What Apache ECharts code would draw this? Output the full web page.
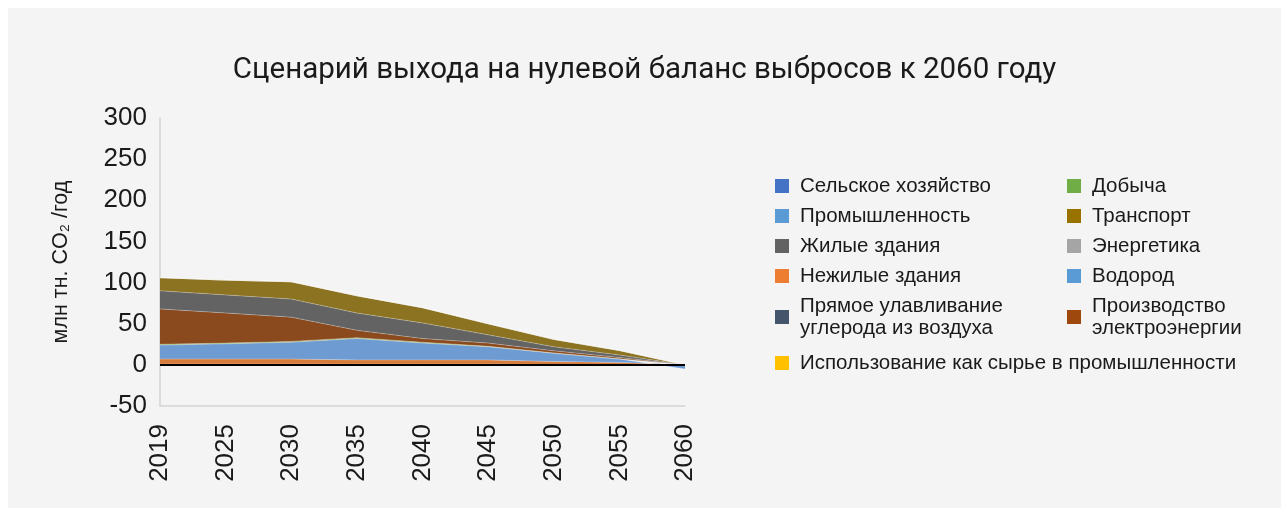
<!DOCTYPE html>
<html>
<head>
<meta charset="utf-8">
<script src="https://cdn.jsdelivr.net/npm/echarts@6/dist/echarts.min.js"></script>
<style>
    html, body { margin: 0; padding: 0; background: #ffffff; }
    #mainChart { position: absolute; left: 8px; top: 8px; width: 1273px; height: 500px; background: #f4f4f4; }
</style>
</head>
<body>
<div id="mainChart"></div>
<script>
// годы по оси X
const years = ['2019', '2025', '2030', '2035', '2040', '2045', '2050', '2055', '2060'];

// значения, млн тн. CO2 / год
const agriculture = [1, 1, 1, 1, 1, 1, 0.5, 0.5, 0];
const nonResidential = [6, 6, 6, 5, 5, 5, 3.5, 2.5, 0];
const industry = [17, 18.5, 20.5, 26, 20.5, 16, 10, 4, -5];
const mining = [1, 1, 1, 1, 1, 0.5, 0.5, 0.3, 0];
const power = [43, 36.5, 29.5, 9, 4.5, 4, 2.5, 1.7, 0];
const residential = [22, 22, 22, 21, 19, 10, 5, 3, 0];
const transport = [16, 18, 21, 21, 18.5, 13.5, 9, 5.5, 0];
const energy = [0, 0, 0, 0, 0, 0, 0, 0, 0];
const hydrogen = [0, 0, 0, 0, 0, 0, 0, 0, 0];
const directAirCapture = [0, 0, 0, 0, 0, 0, 0, 0, 0];
const feedstock = [0, 0, 0, 0, 0, 0, 0, 0, 0];

const yTicks = {min: -50, max: 300, interval: 50};

function initMainChart() {
    let mainChart = echarts.init(document.getElementById('mainChart'));

    // порядок = порядок накопления (снизу вверх)
    let seriesList = [
        {name: 'Сельское хозяйство', data: agriculture, legendColor: '#4472c4', areaColor: '#4472c4'},
        {name: 'Нежилые здания', data: nonResidential, legendColor: '#ed7d31', areaColor: '#d67b3a'},
        {name: 'Промышленность', data: industry, legendColor: '#5b9bd5', areaColor: '#6f9bd3'},
        {name: 'Добыча', data: mining, legendColor: '#70ad47', areaColor: '#7aa84e'},
        {name: 'Производство\nэлектроэнергии', data: power, legendColor: '#9e480e', areaColor: '#8b4a1d'},
        {name: 'Жилые здания', data: residential, legendColor: '#636363', areaColor: '#636363'},
        {name: 'Транспорт', data: transport, legendColor: '#997300', areaColor: '#8b7322'},
        {name: 'Энергетика', data: energy, legendColor: '#a5a5a5', areaColor: '#a5a5a5'},
        {name: 'Водород', data: hydrogen, legendColor: '#5b9bd5', areaColor: '#5b9bd5'},
        {name: 'Прямое улавливание\nуглерода из воздуха', data: directAirCapture, legendColor: '#44546a', areaColor: '#44546a'},
        {name: 'Использование как сырье в промышленности', data: feedstock, legendColor: '#ffc000', areaColor: '#ffc000'}
    ];

    let colorOf = {};
    seriesList.forEach(function (s) {
        colorOf[s.name] = s.legendColor;
    });

    function legendData(names) {
        return names.map(function (n) {
            return {name: n, itemStyle: {color: colorOf[n], borderWidth: 0}};
        });
    }

    let legendBase = {
        orient: 'vertical',
        icon: 'rect',
        padding: 0,
        itemWidth: 14,
        itemHeight: 14,
        itemGap: 8,
        selectedMode: false,
        textStyle: {
            fontFamily: 'Liberation Sans',
            fontSize: 20.5,
            lineHeight: 22,
            color: '#1a1a1a',
            padding: [0, 0, 0, 6]
        }
    };

    let series = seriesList.map(function (s, i) {
        let item = {
            name: s.name,
            type: 'line',
            stack: 'total',
            stackStrategy: 'positive',
            symbol: 'none',
            silent: true,
            color: s.legendColor,
            lineStyle: {width: 0.8, color: 'rgba(255,255,255,0.35)'},
            areaStyle: {color: s.areaColor, opacity: 1},
            data: s.data
        };
        if (i === 0) {
            item.markLine = {
                silent: true,
                symbol: 'none',
                label: {show: false},
                lineStyle: {color: '#000000', width: 2, type: 'solid'},
                data: [{yAxis: 0}]
            };
        }
        return item;
    });

    let mainChartOption = {
        animation: false,
        backgroundColor: '#f4f4f4',
        title: {
            text: 'Сценарий выхода на нулевой баланс выбросов к 2060 году',
            left: 'center',
            top: 43,
            textStyle: {
                fontFamily: 'Roboto',
                fontSize: 29.5,
                fontWeight: 'normal',
                color: '#1a1a1a'
            }
        },
        legend: [
            Object.assign({}, legendBase, {
                left: 767,
                top: 167,
                data: legendData(['Сельское хозяйство', 'Промышленность', 'Жилые здания', 'Нежилые здания', 'Прямое улавливание\nуглерода из воздуха'])
            }),
            Object.assign({}, legendBase, {
                left: 1059,
                top: 167,
                data: legendData(['Добыча', 'Транспорт', 'Энергетика', 'Водород', 'Производство\nэлектроэнергии'])
            }),
            Object.assign({}, legendBase, {
                left: 767,
                top: 344,
                data: legendData(['Использование как сырье в промышленности'])
            })
        ],
        grid: {
            left: 152,
            top: 110,
            width: 525,
            height: 288,
            containLabel: false
        },
        xAxis: {
            type: 'category',
            boundaryGap: false,
            data: years,
            axisLine: {onZero: false, lineStyle: {color: '#d4d4d4', width: 1.5}},
            axisTick: {show: false},
            axisLabel: {
                rotate: 90,
                margin: 18,
                fontFamily: 'Liberation Sans',
                fontSize: 26,
                color: '#1a1a1a'
            },
            splitLine: {show: false}
        },
        yAxis: {
            type: 'value',
            min: yTicks.min,
            max: yTicks.max,
            interval: yTicks.interval,
            name: 'млн тн. CO₂ /год',
            nameLocation: 'middle',
            nameRotate: 90,
            nameGap: 88,
            nameTextStyle: {
                fontFamily: 'Liberation Sans',
                fontSize: 21.5,
                color: '#1a1a1a'
            },
            axisLine: {show: true, lineStyle: {color: '#d4d4d4', width: 1.5}},
            axisTick: {show: false},
            axisLabel: {
                margin: 13,
                fontFamily: 'Liberation Sans',
                fontSize: 26,
                color: '#1a1a1a'
            },
            splitLine: {show: false}
        },
        series: series
    };
    mainChart.setOption(mainChartOption);
}

initMainChart();
</script>
</body>
</html>
